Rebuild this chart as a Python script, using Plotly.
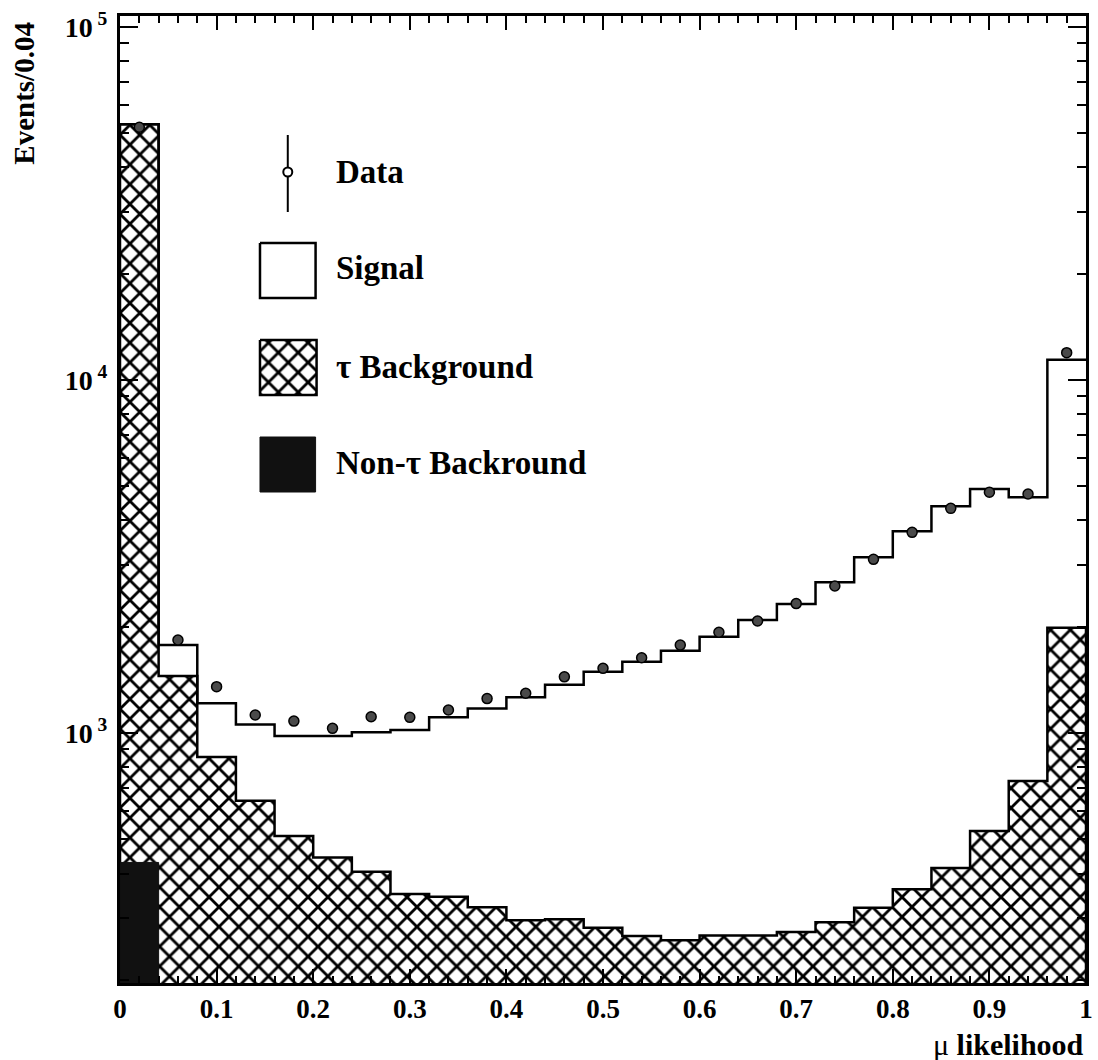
import plotly.graph_objects as go

# 25 bins of width 0.04 in the muon likelihood
bin_edges = [0.00, 0.04, 0.08, 0.12, 0.16, 0.20, 0.24, 0.28, 0.32, 0.36, 0.40,
             0.44, 0.48, 0.52, 0.56, 0.60, 0.64, 0.68, 0.72, 0.76, 0.80,
             0.84, 0.88, 0.92, 0.96, 1.00]

# stacked histogram levels (events / 0.04)
tau_background = [53000, 1450, 855, 643, 511, 444, 405, 350, 344, 321, 295,
                  297, 281, 266, 259, 267, 267, 273, 291, 320, 361, 415,
                  528, 731, 1987]
non_tau_background = [430, 0, 0, 0, 0, 0, 0, 0, 0, 0, 0, 0, 0, 0, 0, 0, 0,
                      0, 0, 0, 0, 0, 0, 0, 0]
signal_stacked = [53000, 1775, 1214, 1058, 981, 981, 1005, 1020, 1108, 1173,
                  1262, 1370, 1492, 1592, 1711, 1874, 2090, 2320, 2673, 3146,
                  3727, 4387, 4912, 4653, 11414]
data_counts = [52000, 1834, 1353, 1125, 1081, 1031, 1112, 1108, 1162, 1252,
               1296, 1443, 1525, 1634, 1775, 1929, 2077, 2326, 2609, 3105,
               3703, 4329, 4808, 4754, 11950]

x_tick_vals = [0, 0.1, 0.2, 0.3, 0.4, 0.5, 0.6, 0.7, 0.8, 0.9, 1.0]
x_tick_text = ["0", "0.1", "0.2", "0.3", "0.4", "0.5", "0.6", "0.7", "0.8", "0.9", "1"]
y_tick_vals = [1e3, 1e4, 1e5]
y_tick_text = ["10<sup> 3</sup>", "10<sup> 4</sup>", "10<sup> 5</sup>"]

legend_labels = ["Data", "Signal", "τ Background", "Non-τ Backround"]

FLOOR = 1.0  # below the visible log range; fills are clipped at the frame
FONT = "Liberation Serif"

# plot frame in pixels
L, R, T, B = 120, 1093, 16, 983


def step_outline(edges, values):
    xs, ys = [], []
    for i, v in enumerate(values):
        y = v if v > 0 else FLOOR
        xs += [edges[i], edges[i + 1]]
        ys += [y, y]
    return xs, ys


def closed_step(edges, values):
    xs, ys = step_outline(edges, values)
    return xs + [edges[-1], edges[0], edges[0]], ys + [FLOOR, FLOOR, ys[0]]


centers = [(bin_edges[i] + bin_edges[i + 1]) / 2 for i in range(len(bin_edges) - 1)]

fig = go.Figure()

hatch = dict(shape="x", fgcolor="black", bgcolor="white", fgopacity=1,
             size=14, solidity=0.36)

tx, ty = closed_step(bin_edges, tau_background)
fig.add_trace(go.Scatter(x=tx, y=ty, mode="lines", fill="toself",
                         fillcolor="white", fillpattern=hatch,
                         line=dict(color="black", width=2.5),
                         hoverinfo="skip", showlegend=False))

nx, ny = closed_step(bin_edges, non_tau_background)
fig.add_trace(go.Scatter(x=nx, y=ny, mode="lines", fill="toself",
                         fillcolor="#111111", line=dict(color="#111111", width=1),
                         hoverinfo="skip", showlegend=False))

sx, sy = step_outline(bin_edges, signal_stacked)
fig.add_trace(go.Scatter(x=sx, y=sy, mode="lines",
                         line=dict(color="black", width=2.5),
                         hoverinfo="skip", showlegend=False))

fig.add_trace(go.Scatter(x=centers, y=data_counts, mode="markers",
                         marker=dict(size=10, color="#4a4a4a",
                                     line=dict(color="black", width=1.5)),
                         showlegend=False))

# ---- legend keys, drawn on a pixel-unit overlay of the plot frame ----
def key_box(x0, y0, x1, y1, **kw):
    return go.Scatter(x=[x0, x1, x1, x0, x0], y=[y0, y0, y1, y1, y0],
                      xaxis="x2", yaxis="y2", mode="lines", fill="toself",
                      hoverinfo="skip", showlegend=False, **kw)

fig.add_trace(go.Scatter(x=[289, 289], y=[135, 212], xaxis="x2", yaxis="y2",
                         mode="lines", line=dict(color="black", width=2),
                         hoverinfo="skip", showlegend=False))
fig.add_trace(go.Scatter(x=[289], y=[172], xaxis="x2", yaxis="y2", mode="markers",
                         marker=dict(size=9, color="white", symbol="circle",
                                     line=dict(color="black", width=2)),
                         hoverinfo="skip", showlegend=False))
fig.add_trace(key_box(261, 243, 317, 298, fillcolor="white",
                      line=dict(color="black", width=2.5)))
fig.add_trace(key_box(261, 340, 318, 395, fillcolor="white", fillpattern=hatch,
                      line=dict(color="black", width=2.5)))
fig.add_trace(key_box(261, 437, 317, 492, fillcolor="#111111",
                      line=dict(color="#111111", width=1)))

legend_y = [172, 268, 367, 463]
annotations = []
for label, yy in zip(legend_labels, legend_y):
    annotations.append(dict(text=label, x=336, y=yy, xref="x2", yref="y2",
                            xanchor="left", yanchor="middle", showarrow=False,
                            font=dict(family=FONT, size=33, color="black", weight="bold")))


def px(xpix):
    return (xpix - L) / (R - L)


def py(ypix):
    return (B - ypix) / (B - T)


annotations.append(dict(text="<span style='font-weight:normal'>μ</span> likelihood",
                        x=1.0, y=py(1044), xref="paper", yref="paper",
                        xanchor="right", yanchor="middle", showarrow=False,
                        font=dict(family=FONT, size=30, color="black", weight="bold")))
annotations.append(dict(text="Events/0.04", x=px(23), y=py(93),
                        xref="paper", yref="paper", textangle=-90,
                        xanchor="center", yanchor="middle", showarrow=False,
                        font=dict(family=FONT, size=29, color="black", weight="bold")))

minor_y = [m * 10 ** e for e in (2, 3, 4) for m in range(2, 10)]

fig.update_layout(
    width=1098, height=1060,
    margin=dict(l=L, r=1098 - R, t=T, b=1060 - B),
    paper_bgcolor="white", plot_bgcolor="white",
    font=dict(family=FONT, color="black", weight="bold"),
    showlegend=False,
    annotations=annotations,
    xaxis=dict(range=[0, 1], showgrid=False, zeroline=False,
               showline=True, linecolor="black", linewidth=3, mirror="ticks",
               ticks="inside", ticklen=14, tickwidth=2, tickcolor="black",
               tickvals=x_tick_vals, ticktext=x_tick_text,
               tickfont=dict(family=FONT, size=27, weight="bold"),
               ticklabelstandoff=0,
               minor=dict(ticks="inside", ticklen=7, tickwidth=1.5,
                          tickcolor="black", dtick=0.02, showgrid=False)),
    yaxis=dict(type="log", range=[2.292, 5.031], showgrid=False, zeroline=False,
               showline=True, linecolor="black", linewidth=3, mirror="ticks",
               ticks="inside", ticklen=18, tickwidth=2, tickcolor="black",
               tickvals=y_tick_vals, ticktext=y_tick_text,
               tickfont=dict(family=FONT, size=28, weight="bold"),
               ticklabelstandoff=4,
               minor=dict(ticks="inside", ticklen=9, tickwidth=1.5,
                          tickcolor="black", tickvals=minor_y, showgrid=False)),
    xaxis2=dict(range=[L, R], overlaying="x", anchor="y2", visible=False),
    yaxis2=dict(range=[B, T], overlaying="y", anchor="x2", visible=False),
)

fig.write_html("out.html")
